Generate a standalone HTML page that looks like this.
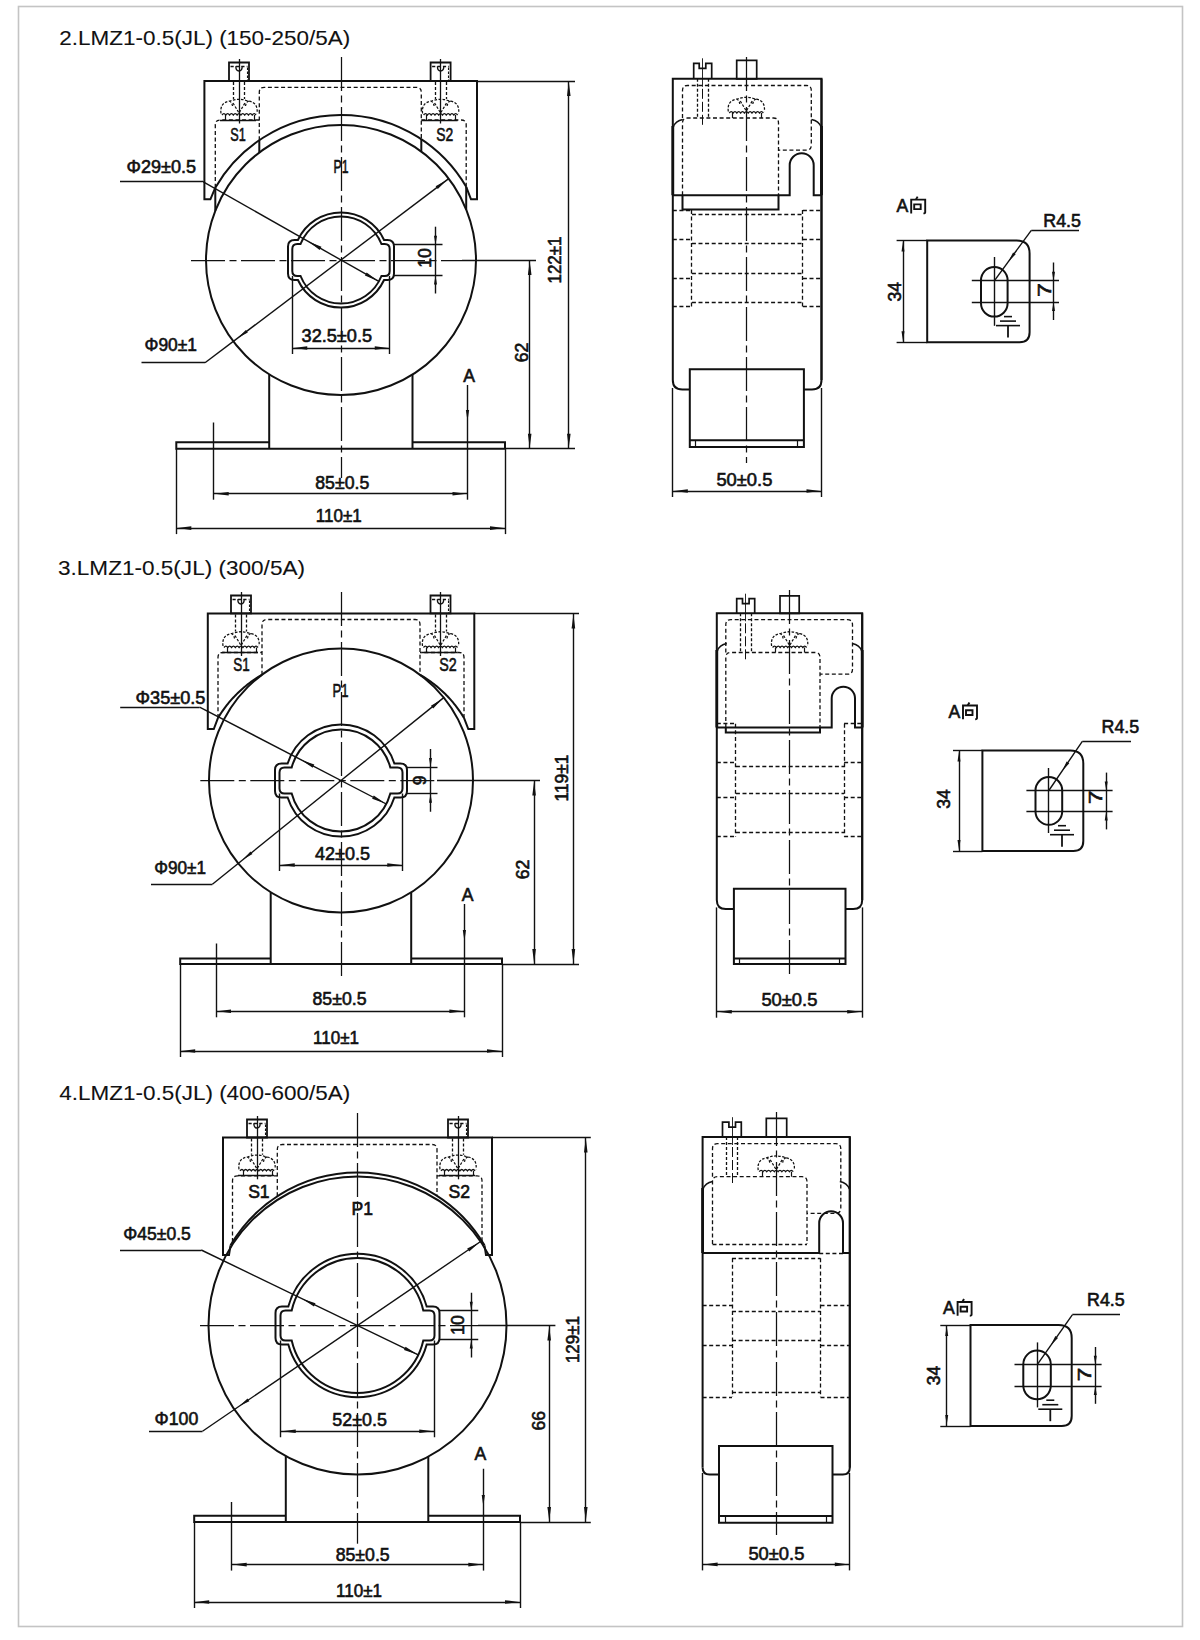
<!DOCTYPE html>
<html><head><meta charset="utf-8"><style>
html,body{margin:0;padding:0;background:#fff;}
body{width:1200px;height:1640px;overflow:hidden;}
svg{display:block;}
text{font-family:"Liberation Sans", sans-serif;fill:#111;stroke:#111;}
</style></head><body>
<svg width="1200" height="1640" viewBox="0 0 1200 1640" stroke="#111" fill="none">
<rect x="18.5" y="6.5" width="1164" height="1620" fill="none" stroke="#c4c4c4" stroke-width="1.6"/>
<text x="59.3" y="44.5" font-size="21" text-anchor="start" textLength="291" lengthAdjust="spacingAndGlyphs" stroke-width="0.1">2.LMZ1-0.5(JL) (150-250/5A)</text>
<text x="58" y="574.5" font-size="21" text-anchor="start" textLength="247" lengthAdjust="spacingAndGlyphs" stroke-width="0.1">3.LMZ1-0.5(JL) (300/5A)</text>
<text x="59.3" y="1099.5" font-size="21" text-anchor="start" textLength="291" lengthAdjust="spacingAndGlyphs" stroke-width="0.1">4.LMZ1-0.5(JL) (400-600/5A)</text>
<circle cx="341" cy="260" r="135" fill="none" stroke-width="2"/>
<path d="M215.3 187.72 A145 145 0 0 1 466.2 186.86" stroke-width="2" fill="none"/>
<line x1="215.3" y1="187.72" x2="215.3" y2="210.76" stroke-width="2" stroke-linecap="butt"/>
<line x1="466.2" y1="186.86" x2="466.2" y2="209.5" stroke-width="2" stroke-linecap="butt"/>
<path d="M215.3 187.72 L210.4 199.3 H204.4 V81 H477 V199.3 H471 L466.2 186.86" stroke-width="2" fill="none"/>
<path d="M259.3 140.21 V92.3 Q259.3 87.3 264.3 87.3 H416.3 Q421.3 87.3 421.3 92.3 V139.27" stroke-width="1.3" stroke-dasharray="4 2.6" fill="none"/>
<line x1="259.3" y1="140.21" x2="259.3" y2="152.53" stroke-width="2" stroke-linecap="butt"/>
<line x1="421.3" y1="139.27" x2="421.3" y2="151.48" stroke-width="2" stroke-linecap="butt"/>
<path d="M215.3 187.72 V125 Q215.3 120 220.3 120 H259.3" stroke-width="1.3" stroke-dasharray="4 2.6" fill="none"/>
<path d="M466.2 186.86 V125 Q466.2 120 461.2 120 H421.3" stroke-width="1.3" stroke-dasharray="4 2.6" fill="none"/>
<path d="M229 62.5H249V81H229Z" stroke-width="1.8" fill="none"/>
<line x1="230.5" y1="66.5" x2="247.5" y2="66.5" stroke-width="1.3" stroke-dasharray="3.2 2.2" stroke-linecap="butt"/>
<path d="M235.8 66.3 Q235.8 71 239 71 Q242.2 71 242.2 66.3" stroke-width="1.3" fill="none"/>
<line x1="247.5" y1="67.5" x2="247.5" y2="81" stroke-width="1.1" stroke-dasharray="2.5 1.5" stroke-linecap="butt"/>
<line x1="239.5" y1="59" x2="239.5" y2="123.5" stroke-width="1.3" stroke-linecap="butt"/>
<line x1="233.5" y1="82" x2="233.5" y2="99" stroke-width="1.3" stroke-dasharray="3 2" stroke-linecap="butt"/>
<line x1="244.5" y1="82" x2="244.5" y2="99" stroke-width="1.3" stroke-dasharray="3 2" stroke-linecap="butt"/>
<line x1="239.5" y1="83" x2="239.5" y2="99" stroke-width="1" stroke-dasharray="6 3" stroke-linecap="butt"/>
<path d="M221 113.5 Q219.5 102.5 230 101 Q239 97.5 248 101 Q258.5 102.5 257 113.5 M233 103 L239 113 L245 103 M229 101 Q232 102 232.5 106 M249 101 Q246 102 245.5 106" stroke-width="1.25" stroke-dasharray="2.6 1.5" fill="none"/>
<path d="M222 115 q1.89 -2.6 3.78 0 q1.89 -2.6 3.78 0 q1.89 -2.6 3.78 0 q1.89 -2.6 3.78 0 q1.89 -2.6 3.78 0 q1.89 -2.6 3.78 0 q1.89 -2.6 3.78 0 q1.89 -2.6 3.78 0 q1.89 -2.6 3.78 0" stroke-width="1.3" fill="none"/>
<line x1="225.5" y1="115" x2="225.5" y2="120" stroke-width="1.2" stroke-linecap="butt"/>
<line x1="254.5" y1="115" x2="254.5" y2="120" stroke-width="1.2" stroke-linecap="butt"/>
<line x1="220" y1="120.5" x2="256" y2="120.5" stroke-width="1.5" stroke-linecap="butt"/>
<path d="M430.6 62.5H450.6V81H430.6Z" stroke-width="1.8" fill="none"/>
<line x1="432.1" y1="66.5" x2="449.1" y2="66.5" stroke-width="1.3" stroke-dasharray="3.2 2.2" stroke-linecap="butt"/>
<path d="M437.4 66.3 Q437.4 71 440.6 71 Q443.8 71 443.8 66.3" stroke-width="1.3" fill="none"/>
<line x1="448.5" y1="67.5" x2="448.5" y2="81" stroke-width="1.1" stroke-dasharray="2.5 1.5" stroke-linecap="butt"/>
<line x1="440.5" y1="59" x2="440.5" y2="123.5" stroke-width="1.3" stroke-linecap="butt"/>
<line x1="435.5" y1="82" x2="435.5" y2="99" stroke-width="1.3" stroke-dasharray="3 2" stroke-linecap="butt"/>
<line x1="446.5" y1="82" x2="446.5" y2="99" stroke-width="1.3" stroke-dasharray="3 2" stroke-linecap="butt"/>
<line x1="440.5" y1="83" x2="440.5" y2="99" stroke-width="1" stroke-dasharray="6 3" stroke-linecap="butt"/>
<path d="M422.6 113.5 Q421.1 102.5 431.6 101 Q440.6 97.5 449.6 101 Q460.1 102.5 458.6 113.5 M434.6 103 L440.6 113 L446.6 103 M430.6 101 Q433.6 102 434.1 106 M450.6 101 Q447.6 102 447.1 106" stroke-width="1.25" stroke-dasharray="2.6 1.5" fill="none"/>
<path d="M423.6 115 q1.89 -2.6 3.78 0 q1.89 -2.6 3.78 0 q1.89 -2.6 3.78 0 q1.89 -2.6 3.78 0 q1.89 -2.6 3.78 0 q1.89 -2.6 3.78 0 q1.89 -2.6 3.78 0 q1.89 -2.6 3.78 0 q1.89 -2.6 3.78 0" stroke-width="1.3" fill="none"/>
<line x1="426.5" y1="115" x2="426.5" y2="120" stroke-width="1.2" stroke-linecap="butt"/>
<line x1="455.5" y1="115" x2="455.5" y2="120" stroke-width="1.2" stroke-linecap="butt"/>
<line x1="421.6" y1="120.5" x2="457.6" y2="120.5" stroke-width="1.5" stroke-linecap="butt"/>
<text x="238" y="141.3" font-size="17.6" text-anchor="middle" textLength="15.5" lengthAdjust="spacingAndGlyphs" stroke-width="0.6">S1</text>
<text x="444.7" y="141.3" font-size="17.6" text-anchor="middle" textLength="17" lengthAdjust="spacingAndGlyphs" stroke-width="0.6">S2</text>
<text x="341" y="173.3" font-size="17.6" text-anchor="middle" textLength="15" lengthAdjust="spacingAndGlyphs" stroke-width="0.6">P1</text>
<path d="M297.92 240A47.5 47.5 0 0 1 384.08 240H387.5 Q394 240 394 246.5V273.5 Q394 280 387.5 280H384.08A47.5 47.5 0 0 1 297.92 280H294.5 Q288 280 288 273.5V246.5 Q288 240 294.5 240Z" stroke-width="2" fill="none"/>
<path d="M300.55 244A43.5 43.5 0 0 1 381.45 244H384.7 Q389.7 244 389.7 249V271 Q389.7 276 384.7 276H381.45A43.5 43.5 0 0 1 300.55 276H297.3 Q292.3 276 292.3 271V249 Q292.3 244 297.3 244Z" stroke-width="2" fill="none"/>
<line x1="191" y1="260.5" x2="462" y2="260.5" stroke-width="1.25" stroke-dasharray="34 4.5 7 4.5" stroke-linecap="butt"/>
<line x1="341.5" y1="57" x2="341.5" y2="478" stroke-width="1.25" stroke-dasharray="34 4.5 7 4.5" stroke-linecap="butt"/>
<line x1="269.2" y1="374.32" x2="269.2" y2="448.7" stroke-width="2" stroke-linecap="butt"/>
<line x1="412.5" y1="374.51" x2="412.5" y2="448.7" stroke-width="2" stroke-linecap="butt"/>
<path d="M269.2 442.2 H176.3 V448.7 H505" stroke-width="2" fill="none"/>
<path d="M412.5 442.2 H505 V448.7" stroke-width="2" fill="none"/>
<line x1="505" y1="448.5" x2="575" y2="448.5" stroke-width="1.4" stroke-linecap="butt"/>
<line x1="477" y1="81.5" x2="575" y2="81.5" stroke-width="1.4" stroke-linecap="butt"/>
<line x1="462" y1="260.5" x2="536" y2="260.5" stroke-width="1.4" stroke-linecap="butt"/>
<line x1="568.5" y1="81" x2="568.5" y2="448.7" stroke-width="1.4" stroke-linecap="butt"/>
<path d="M568.8 82L570.6 96L567 96Z" fill="#111" stroke="none"/>
<path d="M568.8 447.7L567 433.7L570.6 433.7Z" fill="#111" stroke="none"/>
<text transform="translate(560.8 260) rotate(-90)" x="0" y="0" font-size="17.6" text-anchor="middle" textLength="47" lengthAdjust="spacingAndGlyphs" stroke-width="0.6">122±1</text>
<line x1="529.5" y1="260" x2="529.5" y2="448.7" stroke-width="1.4" stroke-linecap="butt"/>
<path d="M529.7 261L531.5 275L527.9 275Z" fill="#111" stroke="none"/>
<path d="M529.7 447.7L527.9 433.7L531.5 433.7Z" fill="#111" stroke="none"/>
<text transform="translate(527.5 352.5) rotate(-90)" x="0" y="0" font-size="17.6" text-anchor="middle" stroke-width="0.6">62</text>
<line x1="213.5" y1="422.5" x2="213.5" y2="499.7" stroke-width="1.4" stroke-linecap="butt"/>
<line x1="467.5" y1="385" x2="467.5" y2="499.7" stroke-width="1.4" stroke-linecap="butt"/>
<line x1="213.7" y1="493.5" x2="467.5" y2="493.5" stroke-width="1.4" stroke-linecap="butt"/>
<path d="M214.7 493.7L228.7 491.9L228.7 495.5Z" fill="#111" stroke="none"/>
<path d="M466.5 493.7L452.5 495.5L452.5 491.9Z" fill="#111" stroke="none"/>
<path d="M467.5 421L465.9 410L469.1 410Z" fill="#111" stroke="none"/>
<text x="342.25" y="489.3" font-size="17.6" text-anchor="middle" textLength="54" lengthAdjust="spacingAndGlyphs" stroke-width="0.6">85±0.5</text>
<text x="469" y="382" font-size="17.6" text-anchor="middle" stroke-width="0.6">A</text>
<line x1="176.5" y1="448.7" x2="176.5" y2="534.1" stroke-width="1.4" stroke-linecap="butt"/>
<line x1="505.5" y1="448.7" x2="505.5" y2="534.1" stroke-width="1.4" stroke-linecap="butt"/>
<line x1="176.3" y1="528.5" x2="505" y2="528.5" stroke-width="1.4" stroke-linecap="butt"/>
<path d="M177.3 528.1L191.3 526.3L191.3 529.9Z" fill="#111" stroke="none"/>
<path d="M504 528.1L490 529.9L490 526.3Z" fill="#111" stroke="none"/>
<text x="338.8" y="521.9" font-size="17.6" text-anchor="middle" textLength="46" lengthAdjust="spacingAndGlyphs" stroke-width="0.6">110±1</text>
<line x1="292.5" y1="276" x2="292.5" y2="354" stroke-width="1.4" stroke-linecap="butt"/>
<line x1="389.5" y1="276" x2="389.5" y2="354" stroke-width="1.4" stroke-linecap="butt"/>
<line x1="292.25" y1="348.5" x2="389.75" y2="348.5" stroke-width="1.4" stroke-linecap="butt"/>
<path d="M293.25 348L307.25 346.2L307.25 349.8Z" fill="#111" stroke="none"/>
<path d="M388.75 348L374.75 349.8L374.75 346.2Z" fill="#111" stroke="none"/>
<text x="336.8" y="342" font-size="17.6" text-anchor="middle" textLength="70.5" lengthAdjust="spacingAndGlyphs" stroke-width="0.6">32.5±0.5</text>
<line x1="394" y1="244.5" x2="442.5" y2="244.5" stroke-width="1.4" stroke-linecap="butt"/>
<line x1="394" y1="275.5" x2="442.5" y2="275.5" stroke-width="1.4" stroke-linecap="butt"/>
<line x1="435.5" y1="226.7" x2="435.5" y2="293.5" stroke-width="1.4" stroke-linecap="butt"/>
<path d="M435.5 244.7L434 235.7L437 235.7Z" fill="#111" stroke="none"/>
<path d="M435.5 275.5L437 284.5L434 284.5Z" fill="#111" stroke="none"/>
<text transform="translate(430.8 258) rotate(-90)" x="0" y="0" font-size="17.6" text-anchor="middle" stroke-width="0.6">10</text>
<line x1="120" y1="181.5" x2="202" y2="181.5" stroke-width="1.4" stroke-linecap="butt"/>
<line x1="202" y1="181.2" x2="378.84" y2="281.45" stroke-width="1.4" stroke-linecap="butt"/>
<path d="M377.97 280.96L364.91 275.62L366.68 272.49Z" fill="#111" stroke="none"/>
<path d="M308.38 241.51L321.44 246.84L319.67 249.98Z" fill="#111" stroke="none"/>
<text x="126.5" y="172.5" font-size="17.6" text-anchor="start" textLength="69.5" lengthAdjust="spacingAndGlyphs" stroke-width="0.6">Φ29±0.5</text>
<line x1="141.5" y1="362.5" x2="205" y2="362.5" stroke-width="1.4" stroke-linecap="butt"/>
<line x1="205" y1="362.8" x2="448.7" y2="178.6" stroke-width="1.4" stroke-linecap="butt"/>
<path d="M447.1 179.8L437.81 189.08L435.64 186.2Z" fill="#111" stroke="none"/>
<path d="M238.09 337.79L245.9 329.88L247.83 332.43Z" fill="#111" stroke="none"/>
<text x="144.5" y="351" font-size="17.6" text-anchor="start" textLength="52.5" lengthAdjust="spacingAndGlyphs" stroke-width="0.6">Φ90±1</text>
<circle cx="341" cy="780.5" r="132" fill="none" stroke-width="2"/>
<path d="M218 717.93 L219.1 716.13 L220.2 714.4 L221.3 712.74 L222.4 711.13 L223.5 709.57 L224.6 708.06 L225.7 706.6 L226.8 705.18 L227.9 703.81 L229 702.47 L230.1 701.17 L231.2 699.91 L232.3 698.68 L233.4 697.49 L234.5 696.32 L235.6 695.19 L236.7 694.08 L237.8 693 L238.9 691.95 L240 690.92 L241.1 689.92 L242.2 688.94 L243.3 687.99 L244.4 687.06 L245.5 686.15 L246.6 685.26 L247.7 684.39 L248.8 683.54 L249.9 682.71 L251 681.9 L252.1 681.11 L253.2 680.33 L254.3 679.58 L255.4 678.84 L256.5 678.12 L257.6 677.41 L258.7 676.72 L259.8 676.05 L260.9 675.39 L262 674.75" stroke-width="2" fill="none"/>
<path d="M420 674.75 L421.1 675.39 L422.2 676.05 L423.3 676.72 L424.4 677.41 L425.5 678.12 L426.6 678.84 L427.7 679.58 L428.8 680.33 L429.9 681.11 L431 681.9 L432.1 682.71 L433.2 683.54 L434.3 684.39 L435.4 685.26 L436.5 686.15 L437.6 687.06 L438.7 687.99 L439.8 688.94 L440.9 689.92 L442 690.92 L443.1 691.95 L444.2 693 L445.3 694.08 L446.4 695.19 L447.5 696.32 L448.6 697.49 L449.7 698.68 L450.8 699.91 L451.9 701.17 L453 702.47 L454.1 703.81 L455.2 705.18 L456.3 706.6 L457.4 708.06 L458.5 709.57 L459.6 711.13 L460.7 712.74 L461.8 714.4 L462.9 716.13 L464 717.93" stroke-width="2" fill="none"/>
<path d="M218 717.93 L213.8 729.1 H207.8 V613.4 H474.3 V729.1 H468.3 L464 717.93" stroke-width="2" fill="none"/>
<path d="M262 674.75 V624.5 Q262 619.5 267 619.5 H415 Q420 619.5 420 624.5 V674.75" stroke-width="1.3" stroke-dasharray="4 2.6" fill="none"/>
<path d="M218 717.93 V657.5 Q218 652.5 223 652.5 H262" stroke-width="1.3" stroke-dasharray="4 2.6" fill="none"/>
<path d="M464 717.93 V657.5 Q464 652.5 459 652.5 H420" stroke-width="1.3" stroke-dasharray="4 2.6" fill="none"/>
<path d="M231 595.5H251V613.4H231Z" stroke-width="1.8" fill="none"/>
<line x1="232.5" y1="599.5" x2="249.5" y2="599.5" stroke-width="1.3" stroke-dasharray="3.2 2.2" stroke-linecap="butt"/>
<path d="M237.8 599.3 Q237.8 604 241 604 Q244.2 604 244.2 599.3" stroke-width="1.3" fill="none"/>
<line x1="249.5" y1="600.5" x2="249.5" y2="613.4" stroke-width="1.1" stroke-dasharray="2.5 1.5" stroke-linecap="butt"/>
<line x1="241.5" y1="592" x2="241.5" y2="656" stroke-width="1.3" stroke-linecap="butt"/>
<line x1="235.5" y1="614.4" x2="235.5" y2="631.5" stroke-width="1.3" stroke-dasharray="3 2" stroke-linecap="butt"/>
<line x1="246.5" y1="614.4" x2="246.5" y2="631.5" stroke-width="1.3" stroke-dasharray="3 2" stroke-linecap="butt"/>
<line x1="241.5" y1="615.4" x2="241.5" y2="631.5" stroke-width="1" stroke-dasharray="6 3" stroke-linecap="butt"/>
<path d="M223 646 Q221.5 635 232 633.5 Q241 630 250 633.5 Q260.5 635 259 646 M235 635.5 L241 645.5 L247 635.5 M231 633.5 Q234 634.5 234.5 638.5 M251 633.5 Q248 634.5 247.5 638.5" stroke-width="1.25" stroke-dasharray="2.6 1.5" fill="none"/>
<path d="M224 647.5 q1.89 -2.6 3.78 0 q1.89 -2.6 3.78 0 q1.89 -2.6 3.78 0 q1.89 -2.6 3.78 0 q1.89 -2.6 3.78 0 q1.89 -2.6 3.78 0 q1.89 -2.6 3.78 0 q1.89 -2.6 3.78 0 q1.89 -2.6 3.78 0" stroke-width="1.3" fill="none"/>
<line x1="227.5" y1="647.5" x2="227.5" y2="652.5" stroke-width="1.2" stroke-linecap="butt"/>
<line x1="256.5" y1="647.5" x2="256.5" y2="652.5" stroke-width="1.2" stroke-linecap="butt"/>
<line x1="222" y1="652.5" x2="258" y2="652.5" stroke-width="1.5" stroke-linecap="butt"/>
<path d="M430.5 595.5H450.5V613.4H430.5Z" stroke-width="1.8" fill="none"/>
<line x1="432" y1="599.5" x2="449" y2="599.5" stroke-width="1.3" stroke-dasharray="3.2 2.2" stroke-linecap="butt"/>
<path d="M437.3 599.3 Q437.3 604 440.5 604 Q443.7 604 443.7 599.3" stroke-width="1.3" fill="none"/>
<line x1="448.5" y1="600.5" x2="448.5" y2="613.4" stroke-width="1.1" stroke-dasharray="2.5 1.5" stroke-linecap="butt"/>
<line x1="440.5" y1="592" x2="440.5" y2="656" stroke-width="1.3" stroke-linecap="butt"/>
<line x1="435.5" y1="614.4" x2="435.5" y2="631.5" stroke-width="1.3" stroke-dasharray="3 2" stroke-linecap="butt"/>
<line x1="446.5" y1="614.4" x2="446.5" y2="631.5" stroke-width="1.3" stroke-dasharray="3 2" stroke-linecap="butt"/>
<line x1="440.5" y1="615.4" x2="440.5" y2="631.5" stroke-width="1" stroke-dasharray="6 3" stroke-linecap="butt"/>
<path d="M422.5 646 Q421 635 431.5 633.5 Q440.5 630 449.5 633.5 Q460 635 458.5 646 M434.5 635.5 L440.5 645.5 L446.5 635.5 M430.5 633.5 Q433.5 634.5 434 638.5 M450.5 633.5 Q447.5 634.5 447 638.5" stroke-width="1.25" stroke-dasharray="2.6 1.5" fill="none"/>
<path d="M423.5 647.5 q1.89 -2.6 3.78 0 q1.89 -2.6 3.78 0 q1.89 -2.6 3.78 0 q1.89 -2.6 3.78 0 q1.89 -2.6 3.78 0 q1.89 -2.6 3.78 0 q1.89 -2.6 3.78 0 q1.89 -2.6 3.78 0 q1.89 -2.6 3.78 0" stroke-width="1.3" fill="none"/>
<line x1="426.5" y1="647.5" x2="426.5" y2="652.5" stroke-width="1.2" stroke-linecap="butt"/>
<line x1="455.5" y1="647.5" x2="455.5" y2="652.5" stroke-width="1.2" stroke-linecap="butt"/>
<line x1="421.5" y1="652.5" x2="457.5" y2="652.5" stroke-width="1.5" stroke-linecap="butt"/>
<text x="241.6" y="671.2" font-size="18.5" text-anchor="middle" textLength="16.5" lengthAdjust="spacingAndGlyphs" stroke-width="0.6">S1</text>
<text x="448" y="671.2" font-size="18.5" text-anchor="middle" textLength="17.5" lengthAdjust="spacingAndGlyphs" stroke-width="0.6">S2</text>
<text x="340.5" y="697" font-size="18.5" text-anchor="middle" textLength="16" lengthAdjust="spacingAndGlyphs" stroke-width="0.6">P1</text>
<path d="M287.64 763.5A56 56 0 0 1 394.36 763.5H400.5 Q407 763.5 407 770V791 Q407 797.5 400.5 797.5H394.36A56 56 0 0 1 287.64 797.5H281.5 Q275 797.5 275 791V770 Q275 763.5 281.5 763.5Z" stroke-width="2" fill="none"/>
<path d="M291.68 767.5A51 51 0 0 1 390.32 767.5H397.5 Q402.5 767.5 402.5 772.5V788.5 Q402.5 793.5 397.5 793.5H390.32A51 51 0 0 1 291.68 793.5H284.5 Q279.5 793.5 279.5 788.5V772.5 Q279.5 767.5 284.5 767.5Z" stroke-width="2" fill="none"/>
<line x1="200.3" y1="780.5" x2="437" y2="780.5" stroke-width="1.25" stroke-dasharray="34 4.5 7 4.5" stroke-linecap="butt"/>
<line x1="341.5" y1="592" x2="341.5" y2="980" stroke-width="1.25" stroke-dasharray="34 4.5 7 4.5" stroke-linecap="butt"/>
<line x1="270.7" y1="892.22" x2="270.7" y2="964" stroke-width="2" stroke-linecap="butt"/>
<line x1="411.2" y1="892.29" x2="411.2" y2="964" stroke-width="2" stroke-linecap="butt"/>
<path d="M270.7 958.5 H180.2 V964 H502" stroke-width="2" fill="none"/>
<path d="M411.2 958.5 H502 V964" stroke-width="2" fill="none"/>
<line x1="502" y1="964.5" x2="579" y2="964.5" stroke-width="1.4" stroke-linecap="butt"/>
<line x1="474.3" y1="613.5" x2="579" y2="613.5" stroke-width="1.4" stroke-linecap="butt"/>
<line x1="437" y1="780.5" x2="540" y2="780.5" stroke-width="1.4" stroke-linecap="butt"/>
<line x1="573.5" y1="613.4" x2="573.5" y2="964" stroke-width="1.4" stroke-linecap="butt"/>
<path d="M573.4 614.4L575.2 628.4L571.6 628.4Z" fill="#111" stroke="none"/>
<path d="M573.4 963L571.6 949L575.2 949Z" fill="#111" stroke="none"/>
<text transform="translate(568 778) rotate(-90)" x="0" y="0" font-size="17.6" text-anchor="middle" textLength="47" lengthAdjust="spacingAndGlyphs" stroke-width="0.6">119±1</text>
<line x1="534.5" y1="780.5" x2="534.5" y2="964" stroke-width="1.4" stroke-linecap="butt"/>
<path d="M534.1 781.5L535.9 795.5L532.3 795.5Z" fill="#111" stroke="none"/>
<path d="M534.1 963L532.3 949L535.9 949Z" fill="#111" stroke="none"/>
<text transform="translate(529.2 869.4) rotate(-90)" x="0" y="0" font-size="17.6" text-anchor="middle" stroke-width="0.6">62</text>
<line x1="216.5" y1="943.5" x2="216.5" y2="1017.3" stroke-width="1.4" stroke-linecap="butt"/>
<line x1="464.5" y1="904" x2="464.5" y2="1017.3" stroke-width="1.4" stroke-linecap="butt"/>
<line x1="216" y1="1011.5" x2="464.4" y2="1011.5" stroke-width="1.4" stroke-linecap="butt"/>
<path d="M217 1011.3L231 1009.5L231 1013.1Z" fill="#111" stroke="none"/>
<path d="M463.4 1011.3L449.4 1013.1L449.4 1009.5Z" fill="#111" stroke="none"/>
<path d="M464.4 941L462.8 930L466 930Z" fill="#111" stroke="none"/>
<text x="339.5" y="1004.7" font-size="17.6" text-anchor="middle" textLength="54" lengthAdjust="spacingAndGlyphs" stroke-width="0.6">85±0.5</text>
<text x="467.6" y="901" font-size="17.6" text-anchor="middle" stroke-width="0.6">A</text>
<line x1="180.5" y1="964" x2="180.5" y2="1057" stroke-width="1.4" stroke-linecap="butt"/>
<line x1="502.5" y1="964" x2="502.5" y2="1057" stroke-width="1.4" stroke-linecap="butt"/>
<line x1="180.2" y1="1051.5" x2="502" y2="1051.5" stroke-width="1.4" stroke-linecap="butt"/>
<path d="M181.2 1051L195.2 1049.2L195.2 1052.8Z" fill="#111" stroke="none"/>
<path d="M501 1051L487 1052.8L487 1049.2Z" fill="#111" stroke="none"/>
<text x="336" y="1044.2" font-size="17.6" text-anchor="middle" textLength="46" lengthAdjust="spacingAndGlyphs" stroke-width="0.6">110±1</text>
<line x1="279.5" y1="793.5" x2="279.5" y2="871" stroke-width="1.4" stroke-linecap="butt"/>
<line x1="402.5" y1="793.5" x2="402.5" y2="871" stroke-width="1.4" stroke-linecap="butt"/>
<line x1="279.75" y1="865.5" x2="402.25" y2="865.5" stroke-width="1.4" stroke-linecap="butt"/>
<path d="M280.75 865L294.75 863.2L294.75 866.8Z" fill="#111" stroke="none"/>
<path d="M401.25 865L387.25 866.8L387.25 863.2Z" fill="#111" stroke="none"/>
<text x="342.5" y="859.8" font-size="17.6" text-anchor="middle" textLength="55" lengthAdjust="spacingAndGlyphs" stroke-width="0.6">42±0.5</text>
<line x1="407" y1="767.5" x2="437.5" y2="767.5" stroke-width="1.4" stroke-linecap="butt"/>
<line x1="407" y1="793.5" x2="437.5" y2="793.5" stroke-width="1.4" stroke-linecap="butt"/>
<line x1="430.5" y1="749" x2="430.5" y2="811.75" stroke-width="1.4" stroke-linecap="butt"/>
<path d="M430.5 767L429 758L432 758Z" fill="#111" stroke="none"/>
<path d="M430.5 793.75L432 802.75L429 802.75Z" fill="#111" stroke="none"/>
<text transform="translate(426.25 780.38) rotate(-90)" x="0" y="0" font-size="17.6" text-anchor="middle" stroke-width="0.6">9</text>
<line x1="120.2" y1="707.5" x2="199.6" y2="707.5" stroke-width="1.4" stroke-linecap="butt"/>
<line x1="199.6" y1="707.1" x2="386.26" y2="804" stroke-width="1.4" stroke-linecap="butt"/>
<path d="M385.38 803.54L372.12 798.68L373.78 795.49Z" fill="#111" stroke="none"/>
<path d="M301.06 759.77L314.32 764.62L312.66 767.82Z" fill="#111" stroke="none"/>
<text x="135.6" y="703.7" font-size="17.6" text-anchor="start" textLength="69.8" lengthAdjust="spacingAndGlyphs" stroke-width="0.6">Φ35±0.5</text>
<line x1="151" y1="884.5" x2="212.4" y2="884.5" stroke-width="1.4" stroke-linecap="butt"/>
<line x1="212.4" y1="884.2" x2="443.75" y2="697.64" stroke-width="1.4" stroke-linecap="butt"/>
<path d="M442.2 698.9L433.21 708.46L430.95 705.66Z" fill="#111" stroke="none"/>
<path d="M242.92 859.59L250.47 851.44L252.48 853.93Z" fill="#111" stroke="none"/>
<text x="154.2" y="874" font-size="17.6" text-anchor="start" textLength="51.8" lengthAdjust="spacingAndGlyphs" stroke-width="0.6">Φ90±1</text>
<circle cx="357.5" cy="1325.5" r="149" fill="none" stroke-width="2"/>
<path d="M230.5 1245.37 A147.1 147.1 0 0 1 484.5 1245.37" stroke-width="2" fill="none"/>
<path d="M230.5 1245.37 L229 1254.9 H223 V1137.5 H492 V1254.9 H486 L484.5 1245.37" stroke-width="2" fill="none"/>
<path d="M277.3 1196.29 V1149.5 Q277.3 1144.5 282.3 1144.5 H432 Q437 1144.5 437 1149.5 V1195.83" stroke-width="1.3" stroke-dasharray="4 2.6" fill="none"/>
<path d="M232.5 1242.05 V1180.8 Q232.5 1175.8 237.5 1175.8 H277.3" stroke-width="1.3" stroke-dasharray="4 2.6" fill="none"/>
<path d="M482 1241.25 V1180.8 Q482 1175.8 477 1175.8 H437" stroke-width="1.3" stroke-dasharray="4 2.6" fill="none"/>
<path d="M247 1119.5H267V1137.5H247Z" stroke-width="1.8" fill="none"/>
<line x1="248.5" y1="1123.5" x2="265.5" y2="1123.5" stroke-width="1.3" stroke-dasharray="3.2 2.2" stroke-linecap="butt"/>
<path d="M253.8 1123.3 Q253.8 1128 257 1128 Q260.2 1128 260.2 1123.3" stroke-width="1.3" fill="none"/>
<line x1="265.5" y1="1124.5" x2="265.5" y2="1137.5" stroke-width="1.1" stroke-dasharray="2.5 1.5" stroke-linecap="butt"/>
<line x1="257.5" y1="1116" x2="257.5" y2="1179.3" stroke-width="1.3" stroke-linecap="butt"/>
<line x1="251.5" y1="1138.5" x2="251.5" y2="1154.8" stroke-width="1.3" stroke-dasharray="3 2" stroke-linecap="butt"/>
<line x1="262.5" y1="1138.5" x2="262.5" y2="1154.8" stroke-width="1.3" stroke-dasharray="3 2" stroke-linecap="butt"/>
<line x1="257.5" y1="1139.5" x2="257.5" y2="1154.8" stroke-width="1" stroke-dasharray="6 3" stroke-linecap="butt"/>
<path d="M239 1169.3 Q237.5 1158.3 248 1156.8 Q257 1153.3 266 1156.8 Q276.5 1158.3 275 1169.3 M251 1158.8 L257 1168.8 L263 1158.8 M247 1156.8 Q250 1157.8 250.5 1161.8 M267 1156.8 Q264 1157.8 263.5 1161.8" stroke-width="1.25" stroke-dasharray="2.6 1.5" fill="none"/>
<path d="M240 1170.8 q1.89 -2.6 3.78 0 q1.89 -2.6 3.78 0 q1.89 -2.6 3.78 0 q1.89 -2.6 3.78 0 q1.89 -2.6 3.78 0 q1.89 -2.6 3.78 0 q1.89 -2.6 3.78 0 q1.89 -2.6 3.78 0 q1.89 -2.6 3.78 0" stroke-width="1.3" fill="none"/>
<line x1="243.5" y1="1170.8" x2="243.5" y2="1175.8" stroke-width="1.2" stroke-linecap="butt"/>
<line x1="272.5" y1="1170.8" x2="272.5" y2="1175.8" stroke-width="1.2" stroke-linecap="butt"/>
<line x1="238" y1="1175.5" x2="274" y2="1175.5" stroke-width="1.5" stroke-linecap="butt"/>
<path d="M448 1119.5H468V1137.5H448Z" stroke-width="1.8" fill="none"/>
<line x1="449.5" y1="1123.5" x2="466.5" y2="1123.5" stroke-width="1.3" stroke-dasharray="3.2 2.2" stroke-linecap="butt"/>
<path d="M454.8 1123.3 Q454.8 1128 458 1128 Q461.2 1128 461.2 1123.3" stroke-width="1.3" fill="none"/>
<line x1="466.5" y1="1124.5" x2="466.5" y2="1137.5" stroke-width="1.1" stroke-dasharray="2.5 1.5" stroke-linecap="butt"/>
<line x1="458.5" y1="1116" x2="458.5" y2="1179.3" stroke-width="1.3" stroke-linecap="butt"/>
<line x1="452.5" y1="1138.5" x2="452.5" y2="1154.8" stroke-width="1.3" stroke-dasharray="3 2" stroke-linecap="butt"/>
<line x1="463.5" y1="1138.5" x2="463.5" y2="1154.8" stroke-width="1.3" stroke-dasharray="3 2" stroke-linecap="butt"/>
<line x1="458.5" y1="1139.5" x2="458.5" y2="1154.8" stroke-width="1" stroke-dasharray="6 3" stroke-linecap="butt"/>
<path d="M440 1169.3 Q438.5 1158.3 449 1156.8 Q458 1153.3 467 1156.8 Q477.5 1158.3 476 1169.3 M452 1158.8 L458 1168.8 L464 1158.8 M448 1156.8 Q451 1157.8 451.5 1161.8 M468 1156.8 Q465 1157.8 464.5 1161.8" stroke-width="1.25" stroke-dasharray="2.6 1.5" fill="none"/>
<path d="M441 1170.8 q1.89 -2.6 3.78 0 q1.89 -2.6 3.78 0 q1.89 -2.6 3.78 0 q1.89 -2.6 3.78 0 q1.89 -2.6 3.78 0 q1.89 -2.6 3.78 0 q1.89 -2.6 3.78 0 q1.89 -2.6 3.78 0 q1.89 -2.6 3.78 0" stroke-width="1.3" fill="none"/>
<line x1="444.5" y1="1170.8" x2="444.5" y2="1175.8" stroke-width="1.2" stroke-linecap="butt"/>
<line x1="473.5" y1="1170.8" x2="473.5" y2="1175.8" stroke-width="1.2" stroke-linecap="butt"/>
<line x1="439" y1="1175.5" x2="475" y2="1175.5" stroke-width="1.5" stroke-linecap="butt"/>
<text x="258.9" y="1197.7" font-size="17.6" text-anchor="middle" stroke-width="0.6">S1</text>
<text x="459.3" y="1197.5" font-size="17.6" text-anchor="middle" stroke-width="0.6">S2</text>
<text x="362.2" y="1214.8" font-size="17.6" text-anchor="middle" stroke-width="0.6">P1</text>
<path d="M288.31 1306.5A71.75 71.75 0 0 1 426.69 1306.5H433 Q439.5 1306.5 439.5 1313V1338 Q439.5 1344.5 433 1344.5H426.69A71.75 71.75 0 0 1 288.31 1344.5H282 Q275.5 1344.5 275.5 1338V1313 Q275.5 1306.5 282 1306.5Z" stroke-width="2" fill="none"/>
<path d="M291.69 1310.5A67.5 67.5 0 0 1 423.31 1310.5H429.5 Q434.5 1310.5 434.5 1315.5V1335.5 Q434.5 1340.5 429.5 1340.5H423.31A67.5 67.5 0 0 1 291.69 1340.5H285.5 Q280.5 1340.5 280.5 1335.5V1315.5 Q280.5 1310.5 285.5 1310.5Z" stroke-width="2" fill="none"/>
<line x1="200" y1="1325.5" x2="478" y2="1325.5" stroke-width="1.25" stroke-dasharray="34 4.5 7 4.5" stroke-linecap="butt"/>
<line x1="357.5" y1="1113" x2="357.5" y2="1543.7" stroke-width="1.25" stroke-dasharray="34 4.5 7 4.5" stroke-linecap="butt"/>
<line x1="285.8" y1="1456.11" x2="285.8" y2="1522" stroke-width="2" stroke-linecap="butt"/>
<line x1="428.3" y1="1456.6" x2="428.3" y2="1522" stroke-width="2" stroke-linecap="butt"/>
<path d="M285.8 1515.8 H194.2 V1522 H520" stroke-width="2" fill="none"/>
<path d="M428.3 1515.8 H520 V1522" stroke-width="2" fill="none"/>
<line x1="520" y1="1522.5" x2="590.8" y2="1522.5" stroke-width="1.4" stroke-linecap="butt"/>
<line x1="492" y1="1137.5" x2="590.8" y2="1137.5" stroke-width="1.4" stroke-linecap="butt"/>
<line x1="478" y1="1325.5" x2="555.4" y2="1325.5" stroke-width="1.4" stroke-linecap="butt"/>
<line x1="585.5" y1="1137.5" x2="585.5" y2="1522" stroke-width="1.4" stroke-linecap="butt"/>
<path d="M585.8 1138.5L587.6 1152.5L584 1152.5Z" fill="#111" stroke="none"/>
<path d="M585.8 1521L584 1507L587.6 1507Z" fill="#111" stroke="none"/>
<text transform="translate(579 1339.6) rotate(-90)" x="0" y="0" font-size="17.6" text-anchor="middle" textLength="47" lengthAdjust="spacingAndGlyphs" stroke-width="0.6">129±1</text>
<line x1="549.5" y1="1325.5" x2="549.5" y2="1522" stroke-width="1.4" stroke-linecap="butt"/>
<path d="M549.2 1326.5L551 1340.5L547.4 1340.5Z" fill="#111" stroke="none"/>
<path d="M549.2 1521L547.4 1507L551 1507Z" fill="#111" stroke="none"/>
<text transform="translate(545 1420.8) rotate(-90)" x="0" y="0" font-size="17.6" text-anchor="middle" stroke-width="0.6">66</text>
<line x1="231.5" y1="1502" x2="231.5" y2="1570.6" stroke-width="1.4" stroke-linecap="butt"/>
<line x1="483.5" y1="1468.75" x2="483.5" y2="1570.6" stroke-width="1.4" stroke-linecap="butt"/>
<line x1="231.7" y1="1564.5" x2="483.3" y2="1564.5" stroke-width="1.4" stroke-linecap="butt"/>
<path d="M232.7 1564.6L246.7 1562.8L246.7 1566.4Z" fill="#111" stroke="none"/>
<path d="M482.3 1564.6L468.3 1566.4L468.3 1562.8Z" fill="#111" stroke="none"/>
<path d="M483.3 1506L481.7 1495L484.9 1495Z" fill="#111" stroke="none"/>
<text x="362.7" y="1560.6" font-size="17.6" text-anchor="middle" textLength="54" lengthAdjust="spacingAndGlyphs" stroke-width="0.6">85±0.5</text>
<text x="480.4" y="1460" font-size="17.6" text-anchor="middle" stroke-width="0.6">A</text>
<line x1="194.5" y1="1522" x2="194.5" y2="1608" stroke-width="1.4" stroke-linecap="butt"/>
<line x1="520.5" y1="1522" x2="520.5" y2="1608" stroke-width="1.4" stroke-linecap="butt"/>
<line x1="194.2" y1="1602.5" x2="520" y2="1602.5" stroke-width="1.4" stroke-linecap="butt"/>
<path d="M195.2 1602L209.2 1600.2L209.2 1603.8Z" fill="#111" stroke="none"/>
<path d="M519 1602L505 1603.8L505 1600.2Z" fill="#111" stroke="none"/>
<text x="359" y="1597.3" font-size="17.6" text-anchor="middle" textLength="46" lengthAdjust="spacingAndGlyphs" stroke-width="0.6">110±1</text>
<line x1="280.5" y1="1340.5" x2="280.5" y2="1437.25" stroke-width="1.4" stroke-linecap="butt"/>
<line x1="434.5" y1="1340.5" x2="434.5" y2="1437.25" stroke-width="1.4" stroke-linecap="butt"/>
<line x1="280.75" y1="1431.5" x2="434.25" y2="1431.5" stroke-width="1.4" stroke-linecap="butt"/>
<path d="M281.75 1431.25L295.75 1429.45L295.75 1433.05Z" fill="#111" stroke="none"/>
<path d="M433.25 1431.25L419.25 1433.05L419.25 1429.45Z" fill="#111" stroke="none"/>
<text x="359.6" y="1426" font-size="17.6" text-anchor="middle" textLength="54.5" lengthAdjust="spacingAndGlyphs" stroke-width="0.6">52±0.5</text>
<line x1="439.5" y1="1310.5" x2="478.25" y2="1310.5" stroke-width="1.4" stroke-linecap="butt"/>
<line x1="439.5" y1="1339.5" x2="478.25" y2="1339.5" stroke-width="1.4" stroke-linecap="butt"/>
<line x1="471.5" y1="1292.75" x2="471.5" y2="1357.5" stroke-width="1.4" stroke-linecap="butt"/>
<path d="M471.25 1310.75L469.75 1301.75L472.75 1301.75Z" fill="#111" stroke="none"/>
<path d="M471.25 1339.5L472.75 1348.5L469.75 1348.5Z" fill="#111" stroke="none"/>
<text transform="translate(463.75 1325.12) rotate(-90)" x="0" y="0" font-size="17.6" text-anchor="middle" stroke-width="0.6">10</text>
<line x1="120" y1="1250.5" x2="201.25" y2="1250.5" stroke-width="1.4" stroke-linecap="butt"/>
<line x1="201.25" y1="1250" x2="418.28" y2="1354.87" stroke-width="1.4" stroke-linecap="butt"/>
<path d="M417.38 1354.43L403.99 1349.96L405.55 1346.72Z" fill="#111" stroke="none"/>
<path d="M302.13 1298.74L315.51 1303.21L313.95 1306.45Z" fill="#111" stroke="none"/>
<text x="123.3" y="1239.6" font-size="17.6" text-anchor="start" textLength="67.5" lengthAdjust="spacingAndGlyphs" stroke-width="0.6">Φ45±0.5</text>
<line x1="149" y1="1431.5" x2="202.5" y2="1431.5" stroke-width="1.4" stroke-linecap="butt"/>
<line x1="202.5" y1="1431.25" x2="480.58" y2="1241.53" stroke-width="1.4" stroke-linecap="butt"/>
<path d="M478.93 1242.65L469.21 1251.47L467.18 1248.49Z" fill="#111" stroke="none"/>
<path d="M239.37 1406.09L247.56 1398.57L249.36 1401.21Z" fill="#111" stroke="none"/>
<text x="154.6" y="1425" font-size="17.6" text-anchor="start" textLength="43.7" lengthAdjust="spacingAndGlyphs" stroke-width="0.6">Φ100</text>
<path d="M689.8 389.5 H682.3 V389.5 Q672.8 389.5 672.8 380 H672.8 M803.9 389.5 H812 Q821.5 389.5 821.5 380 V78.8" stroke-width="2" fill="none"/>
<path d="M672.8 380 V78.8 H821.5 V380" stroke-width="2" fill="none"/>
<line x1="672.8" y1="126" x2="672.8" y2="195.2" stroke-width="2.8" stroke-linecap="butt"/>
<line x1="821.5" y1="126" x2="821.5" y2="195.2" stroke-width="2.8" stroke-linecap="butt"/>
<path d="M673.3 127 Q675.3 121 682.8 119.5" stroke-width="1.4" fill="none"/>
<path d="M821 127 Q819 121 811.5 119.5" stroke-width="1.4" fill="none"/>
<path d="M693.7 78.8 V63.3 H699.2 V68.3 H705.8 V63.3 H711.7 V78.8" stroke-width="1.7" fill="none"/>
<line x1="702.5" y1="58.3" x2="702.5" y2="86.8" stroke-width="0.9" stroke-linecap="butt"/>
<line x1="702.5" y1="88.8" x2="702.5" y2="126" stroke-width="1" stroke-dasharray="10 3" stroke-linecap="butt"/>
<line x1="697.5" y1="78.8" x2="697.5" y2="118" stroke-width="1.3" stroke-dasharray="3 2" stroke-linecap="butt"/>
<line x1="708.5" y1="78.8" x2="708.5" y2="118" stroke-width="1.3" stroke-dasharray="3 2" stroke-linecap="butt"/>
<path d="M736.7 60.3H756.7V78.8H736.7Z" stroke-width="1.7" fill="none"/>
<path d="M682.5 118 V90.5 Q682.5 85.5 687.5 85.5 H806.3 Q811.3 85.5 811.3 90.5 V145.2 Q811.3 150.2 806.3 150.2 H778.5" stroke-width="1.3" stroke-dasharray="4 2.6" fill="none"/>
<path d="M682.5 195.2 V123 Q682.5 118 687.5 118 H773.5 Q778.5 118 778.5 123 V195.2" stroke-width="1.3" stroke-dasharray="4 2.6" fill="none"/>
<path d="M728.3 111.5 Q726.8 100.5 737.3 99 Q746.3 95.5 755.3 99 Q765.8 100.5 764.3 111.5 M740.3 101 L746.3 111 L752.3 101 M736.3 99 Q739.3 100 739.8 104 M756.3 99 Q753.3 100 752.8 104" stroke-width="1.25" stroke-dasharray="2.6 1.5" fill="none"/>
<path d="M729.3 113 q1.89 -2.6 3.78 0 q1.89 -2.6 3.78 0 q1.89 -2.6 3.78 0 q1.89 -2.6 3.78 0 q1.89 -2.6 3.78 0 q1.89 -2.6 3.78 0 q1.89 -2.6 3.78 0 q1.89 -2.6 3.78 0 q1.89 -2.6 3.78 0" stroke-width="1.3" fill="none"/>
<line x1="732.5" y1="113" x2="732.5" y2="118" stroke-width="1.2" stroke-linecap="butt"/>
<line x1="761.5" y1="113" x2="761.5" y2="118" stroke-width="1.2" stroke-linecap="butt"/>
<path d="M672.8 195.2 H789.7 V165.2 A12 12 0 0 1 813.7 165.2 V195.2 H821.5" stroke-width="2" fill="none"/>
<path d="M682.5 195.2 V209.5 H778.5 V195.2" stroke-width="2" fill="none"/>
<line x1="672.8" y1="210.5" x2="691.9" y2="210.5" stroke-width="1.3" stroke-dasharray="4 2.6" stroke-linecap="butt"/>
<line x1="802.9" y1="210.5" x2="821.5" y2="210.5" stroke-width="1.3" stroke-dasharray="4 2.6" stroke-linecap="butt"/>
<line x1="672.8" y1="239.5" x2="691.9" y2="239.5" stroke-width="1.3" stroke-dasharray="4 2.6" stroke-linecap="butt"/>
<line x1="802.9" y1="239.5" x2="821.5" y2="239.5" stroke-width="1.3" stroke-dasharray="4 2.6" stroke-linecap="butt"/>
<line x1="672.8" y1="278.5" x2="691.9" y2="278.5" stroke-width="1.3" stroke-dasharray="4 2.6" stroke-linecap="butt"/>
<line x1="802.9" y1="278.5" x2="821.5" y2="278.5" stroke-width="1.3" stroke-dasharray="4 2.6" stroke-linecap="butt"/>
<line x1="672.8" y1="306.5" x2="691.9" y2="306.5" stroke-width="1.3" stroke-dasharray="4 2.6" stroke-linecap="butt"/>
<line x1="802.9" y1="306.5" x2="821.5" y2="306.5" stroke-width="1.3" stroke-dasharray="4 2.6" stroke-linecap="butt"/>
<line x1="691.9" y1="214.5" x2="802.9" y2="214.5" stroke-width="1.3" stroke-dasharray="4 2.6" stroke-linecap="butt"/>
<line x1="691.9" y1="243.5" x2="802.9" y2="243.5" stroke-width="1.3" stroke-dasharray="4 2.6" stroke-linecap="butt"/>
<line x1="691.9" y1="273.5" x2="802.9" y2="273.5" stroke-width="1.3" stroke-dasharray="4 2.6" stroke-linecap="butt"/>
<line x1="691.9" y1="302.5" x2="802.9" y2="302.5" stroke-width="1.3" stroke-dasharray="4 2.6" stroke-linecap="butt"/>
<line x1="691.5" y1="210" x2="691.5" y2="306.5" stroke-width="1.3" stroke-dasharray="4 2.6" stroke-linecap="butt"/>
<line x1="802.5" y1="210" x2="802.5" y2="306.5" stroke-width="1.3" stroke-dasharray="4 2.6" stroke-linecap="butt"/>
<path d="M689.8 369.3H803.9V447H689.8Z" stroke-width="2" fill="none"/>
<line x1="689.8" y1="440.3" x2="803.9" y2="440.3" stroke-width="2" stroke-linecap="butt"/>
<line x1="695.5" y1="440.3" x2="695.5" y2="447" stroke-width="1.2" stroke-linecap="butt"/>
<line x1="797.5" y1="440.3" x2="797.5" y2="447" stroke-width="1.2" stroke-linecap="butt"/>
<line x1="746.5" y1="57" x2="746.5" y2="463" stroke-width="1.25" stroke-dasharray="34 4.5 7 4.5" stroke-linecap="butt"/>
<line x1="672.5" y1="388" x2="672.5" y2="497" stroke-width="1.4" stroke-linecap="butt"/>
<line x1="821.5" y1="388" x2="821.5" y2="497" stroke-width="1.4" stroke-linecap="butt"/>
<line x1="672.8" y1="491.5" x2="821.5" y2="491.5" stroke-width="1.4" stroke-linecap="butt"/>
<path d="M673.8 491L687.8 489.2L687.8 492.8Z" fill="#111" stroke="none"/>
<path d="M820.5 491L806.5 492.8L806.5 489.2Z" fill="#111" stroke="none"/>
<text x="744.4" y="485.8" font-size="18" text-anchor="middle" textLength="56" lengthAdjust="spacingAndGlyphs" stroke-width="0.6">50±0.5</text>
<path d="M733.9 908.9 H725.8 V908.9 Q716.8 908.9 716.8 899.9 H716.8 M845.5 908.9 H853.2 Q862.2 908.9 862.2 899.9 V613.3" stroke-width="2" fill="none"/>
<path d="M716.8 899.9 V613.3 H862.2 V899.9" stroke-width="2" fill="none"/>
<line x1="716.8" y1="650" x2="716.8" y2="727.5" stroke-width="2.8" stroke-linecap="butt"/>
<line x1="862.2" y1="650" x2="862.2" y2="727.5" stroke-width="2.8" stroke-linecap="butt"/>
<path d="M717.3 651 Q719.3 645 726.8 643.5" stroke-width="1.4" fill="none"/>
<path d="M861.7 651 Q859.7 645 852.2 643.5" stroke-width="1.4" fill="none"/>
<path d="M736.7 613.3 V598.7 H742.5 V603.7 H749.1 V598.7 H754.7 V613.3" stroke-width="1.7" fill="none"/>
<line x1="745.5" y1="593.7" x2="745.5" y2="621.3" stroke-width="0.9" stroke-linecap="butt"/>
<line x1="745.5" y1="623.3" x2="745.5" y2="660.5" stroke-width="1" stroke-dasharray="10 3" stroke-linecap="butt"/>
<line x1="740.5" y1="613.3" x2="740.5" y2="652.5" stroke-width="1.3" stroke-dasharray="3 2" stroke-linecap="butt"/>
<line x1="751.5" y1="613.3" x2="751.5" y2="652.5" stroke-width="1.3" stroke-dasharray="3 2" stroke-linecap="butt"/>
<path d="M780 595.8H799.2V613.3H780Z" stroke-width="1.7" fill="none"/>
<path d="M725.8 652.5 V624.7 Q725.8 619.7 730.8 619.7 H847.5 Q852.5 619.7 852.5 624.7 V669.2 Q852.5 674.2 847.5 674.2 H820" stroke-width="1.3" stroke-dasharray="4 2.6" fill="none"/>
<path d="M725.8 727.5 V657.5 Q725.8 652.5 730.8 652.5 H815 Q820 652.5 820 657.5 V727.5" stroke-width="1.3" stroke-dasharray="4 2.6" fill="none"/>
<path d="M771.6 646 Q770.1 635 780.6 633.5 Q789.6 630 798.6 633.5 Q809.1 635 807.6 646 M783.6 635.5 L789.6 645.5 L795.6 635.5 M779.6 633.5 Q782.6 634.5 783.1 638.5 M799.6 633.5 Q796.6 634.5 796.1 638.5" stroke-width="1.25" stroke-dasharray="2.6 1.5" fill="none"/>
<path d="M772.6 647.5 q1.89 -2.6 3.78 0 q1.89 -2.6 3.78 0 q1.89 -2.6 3.78 0 q1.89 -2.6 3.78 0 q1.89 -2.6 3.78 0 q1.89 -2.6 3.78 0 q1.89 -2.6 3.78 0 q1.89 -2.6 3.78 0 q1.89 -2.6 3.78 0" stroke-width="1.3" fill="none"/>
<line x1="775.5" y1="647.5" x2="775.5" y2="652.5" stroke-width="1.2" stroke-linecap="butt"/>
<line x1="804.5" y1="647.5" x2="804.5" y2="652.5" stroke-width="1.2" stroke-linecap="butt"/>
<path d="M716.8 727.5 H831.7 V698.35 A11.65 11.65 0 0 1 855 698.35 V727.5 H862.2" stroke-width="2" fill="none"/>
<path d="M725.8 727.5 V732.5 H820 V727.5" stroke-width="2" fill="none"/>
<line x1="716.8" y1="723.5" x2="735.9" y2="723.5" stroke-width="1.3" stroke-dasharray="4 2.6" stroke-linecap="butt"/>
<line x1="844.1" y1="723.5" x2="862.2" y2="723.5" stroke-width="1.3" stroke-dasharray="4 2.6" stroke-linecap="butt"/>
<line x1="716.8" y1="762.5" x2="735.9" y2="762.5" stroke-width="1.3" stroke-dasharray="4 2.6" stroke-linecap="butt"/>
<line x1="844.1" y1="762.5" x2="862.2" y2="762.5" stroke-width="1.3" stroke-dasharray="4 2.6" stroke-linecap="butt"/>
<line x1="716.8" y1="797.5" x2="735.9" y2="797.5" stroke-width="1.3" stroke-dasharray="4 2.6" stroke-linecap="butt"/>
<line x1="844.1" y1="797.5" x2="862.2" y2="797.5" stroke-width="1.3" stroke-dasharray="4 2.6" stroke-linecap="butt"/>
<line x1="716.8" y1="836.5" x2="735.9" y2="836.5" stroke-width="1.3" stroke-dasharray="4 2.6" stroke-linecap="butt"/>
<line x1="844.1" y1="836.5" x2="862.2" y2="836.5" stroke-width="1.3" stroke-dasharray="4 2.6" stroke-linecap="butt"/>
<line x1="735.9" y1="766.5" x2="844.1" y2="766.5" stroke-width="1.3" stroke-dasharray="4 2.6" stroke-linecap="butt"/>
<line x1="735.9" y1="793.5" x2="844.1" y2="793.5" stroke-width="1.3" stroke-dasharray="4 2.6" stroke-linecap="butt"/>
<line x1="735.9" y1="832.5" x2="844.1" y2="832.5" stroke-width="1.3" stroke-dasharray="4 2.6" stroke-linecap="butt"/>
<line x1="735.5" y1="723.7" x2="735.5" y2="836.5" stroke-width="1.3" stroke-dasharray="4 2.6" stroke-linecap="butt"/>
<line x1="844.5" y1="723.7" x2="844.5" y2="836.5" stroke-width="1.3" stroke-dasharray="4 2.6" stroke-linecap="butt"/>
<path d="M733.9 888.8H845.5V963.9H733.9Z" stroke-width="2" fill="none"/>
<line x1="733.9" y1="958.4" x2="845.5" y2="958.4" stroke-width="2" stroke-linecap="butt"/>
<line x1="739.5" y1="958.4" x2="739.5" y2="963.9" stroke-width="1.2" stroke-linecap="butt"/>
<line x1="839.5" y1="958.4" x2="839.5" y2="963.9" stroke-width="1.2" stroke-linecap="butt"/>
<line x1="789.5" y1="590" x2="789.5" y2="975.6" stroke-width="1.25" stroke-dasharray="34 4.5 7 4.5" stroke-linecap="butt"/>
<line x1="716.5" y1="907.4" x2="716.5" y2="1017.7" stroke-width="1.4" stroke-linecap="butt"/>
<line x1="862.5" y1="907.4" x2="862.5" y2="1017.7" stroke-width="1.4" stroke-linecap="butt"/>
<line x1="716.8" y1="1011.5" x2="862.2" y2="1011.5" stroke-width="1.4" stroke-linecap="butt"/>
<path d="M717.8 1011.7L731.8 1009.9L731.8 1013.5Z" fill="#111" stroke="none"/>
<path d="M861.2 1011.7L847.2 1013.5L847.2 1009.9Z" fill="#111" stroke="none"/>
<text x="789.4" y="1005.8" font-size="18" text-anchor="middle" textLength="56" lengthAdjust="spacingAndGlyphs" stroke-width="0.6">50±0.5</text>
<path d="M719 1474.4 H709.6 V1474.4 Q702.6 1474.4 702.6 1467.4 H702.6 M832.5 1474.4 H842.8 Q849.8 1474.4 849.8 1467.4 V1137" stroke-width="2" fill="none"/>
<path d="M702.6 1467.4 V1137 H849.8 V1467.4" stroke-width="2" fill="none"/>
<line x1="702.6" y1="1188" x2="702.6" y2="1253" stroke-width="2.8" stroke-linecap="butt"/>
<path d="M703.1 1189 Q705.1 1183 712.6 1181.5" stroke-width="1.4" fill="none"/>
<path d="M849.3 1189 Q847.3 1183 839.8 1181.5" stroke-width="1.4" fill="none"/>
<path d="M722.5 1137 V1122.2 H728.9 V1127.2 H735.5 V1122.2 H741.3 V1137" stroke-width="1.7" fill="none"/>
<line x1="732.5" y1="1117.2" x2="732.5" y2="1145" stroke-width="0.9" stroke-linecap="butt"/>
<line x1="732.5" y1="1147" x2="732.5" y2="1184.7" stroke-width="1" stroke-dasharray="10 3" stroke-linecap="butt"/>
<line x1="726.5" y1="1137" x2="726.5" y2="1176.7" stroke-width="1.3" stroke-dasharray="3 2" stroke-linecap="butt"/>
<line x1="737.5" y1="1137" x2="737.5" y2="1176.7" stroke-width="1.3" stroke-dasharray="3 2" stroke-linecap="butt"/>
<path d="M766.3 1118.3H786.7V1137H766.3Z" stroke-width="1.7" fill="none"/>
<path d="M712.5 1176.7 V1148.7 Q712.5 1143.7 717.5 1143.7 H835.8 Q840.8 1143.7 840.8 1148.7 V1208.3 Q840.8 1213.3 835.8 1213.3 H807" stroke-width="1.3" stroke-dasharray="4 2.6" fill="none"/>
<path d="M712.5 1244 V1181.7 Q712.5 1176.7 717.5 1176.7 H802 Q807 1176.7 807 1181.7 V1244" stroke-width="1.3" stroke-dasharray="4 2.6" fill="none"/>
<line x1="712.5" y1="1244.5" x2="807" y2="1244.5" stroke-width="1.3" stroke-dasharray="4 2.6" stroke-linecap="butt"/>
<path d="M758.2 1170.2 Q756.7 1159.2 767.2 1157.7 Q776.2 1154.2 785.2 1157.7 Q795.7 1159.2 794.2 1170.2 M770.2 1159.7 L776.2 1169.7 L782.2 1159.7 M766.2 1157.7 Q769.2 1158.7 769.7 1162.7 M786.2 1157.7 Q783.2 1158.7 782.7 1162.7" stroke-width="1.25" stroke-dasharray="2.6 1.5" fill="none"/>
<path d="M759.2 1171.7 q1.89 -2.6 3.78 0 q1.89 -2.6 3.78 0 q1.89 -2.6 3.78 0 q1.89 -2.6 3.78 0 q1.89 -2.6 3.78 0 q1.89 -2.6 3.78 0 q1.89 -2.6 3.78 0 q1.89 -2.6 3.78 0 q1.89 -2.6 3.78 0" stroke-width="1.3" fill="none"/>
<line x1="762.5" y1="1171.7" x2="762.5" y2="1176.7" stroke-width="1.2" stroke-linecap="butt"/>
<line x1="791.5" y1="1171.7" x2="791.5" y2="1176.7" stroke-width="1.2" stroke-linecap="butt"/>
<path d="M702.6 1253 H819.2 V1223.2 A11.9 11.9 0 0 1 843 1223.2 V1253 H849.8" stroke-width="2" fill="none"/>
<line x1="819.2" y1="1253.5" x2="843" y2="1253.5" stroke-width="1.3" stroke-dasharray="4 2.6" stroke-linecap="butt"/>
<line x1="702.6" y1="1305.5" x2="732" y2="1305.5" stroke-width="1.3" stroke-dasharray="4 2.6" stroke-linecap="butt"/>
<line x1="820.5" y1="1305.5" x2="849.8" y2="1305.5" stroke-width="1.3" stroke-dasharray="4 2.6" stroke-linecap="butt"/>
<line x1="702.6" y1="1345.5" x2="732" y2="1345.5" stroke-width="1.3" stroke-dasharray="4 2.6" stroke-linecap="butt"/>
<line x1="820.5" y1="1345.5" x2="849.8" y2="1345.5" stroke-width="1.3" stroke-dasharray="4 2.6" stroke-linecap="butt"/>
<line x1="702.6" y1="1397.5" x2="732" y2="1397.5" stroke-width="1.3" stroke-dasharray="4 2.6" stroke-linecap="butt"/>
<line x1="820.5" y1="1397.5" x2="849.8" y2="1397.5" stroke-width="1.3" stroke-dasharray="4 2.6" stroke-linecap="butt"/>
<line x1="732" y1="1258.5" x2="820.5" y2="1258.5" stroke-width="1.3" stroke-dasharray="4 2.6" stroke-linecap="butt"/>
<line x1="732" y1="1311.5" x2="820.5" y2="1311.5" stroke-width="1.3" stroke-dasharray="4 2.6" stroke-linecap="butt"/>
<line x1="732" y1="1340.5" x2="820.5" y2="1340.5" stroke-width="1.3" stroke-dasharray="4 2.6" stroke-linecap="butt"/>
<line x1="732" y1="1392.5" x2="820.5" y2="1392.5" stroke-width="1.3" stroke-dasharray="4 2.6" stroke-linecap="butt"/>
<line x1="732.5" y1="1258.2" x2="732.5" y2="1397" stroke-width="1.3" stroke-dasharray="4 2.6" stroke-linecap="butt"/>
<line x1="820.5" y1="1258.2" x2="820.5" y2="1397" stroke-width="1.3" stroke-dasharray="4 2.6" stroke-linecap="butt"/>
<path d="M719 1445.9H832.5V1522.7H719Z" stroke-width="2" fill="none"/>
<line x1="719" y1="1516" x2="832.5" y2="1516" stroke-width="2" stroke-linecap="butt"/>
<line x1="725.5" y1="1516" x2="725.5" y2="1522.7" stroke-width="1.2" stroke-linecap="butt"/>
<line x1="826.5" y1="1516" x2="826.5" y2="1522.7" stroke-width="1.2" stroke-linecap="butt"/>
<line x1="776.5" y1="1112" x2="776.5" y2="1535" stroke-width="1.25" stroke-dasharray="34 4.5 7 4.5" stroke-linecap="butt"/>
<line x1="702.5" y1="1472.9" x2="702.5" y2="1570.4" stroke-width="1.4" stroke-linecap="butt"/>
<line x1="849.5" y1="1472.9" x2="849.5" y2="1570.4" stroke-width="1.4" stroke-linecap="butt"/>
<line x1="702.6" y1="1564.5" x2="849.8" y2="1564.5" stroke-width="1.4" stroke-linecap="butt"/>
<path d="M703.6 1564.4L717.6 1562.6L717.6 1566.2Z" fill="#111" stroke="none"/>
<path d="M848.8 1564.4L834.8 1566.2L834.8 1562.6Z" fill="#111" stroke="none"/>
<text x="776.4" y="1559.6" font-size="18" text-anchor="middle" textLength="56" lengthAdjust="spacingAndGlyphs" stroke-width="0.6">50±0.5</text>
<path d="M927.2 240.4 H1016.6 Q1029.6 240.4 1029.6 253.4 V332.2 Q1029.6 342.2 1019.6 342.2 H927.2 Z" stroke-width="2" fill="none"/>
<line x1="896.6" y1="240.5" x2="927.2" y2="240.5" stroke-width="1.4" stroke-linecap="butt"/>
<line x1="896.6" y1="342.5" x2="927.2" y2="342.5" stroke-width="1.4" stroke-linecap="butt"/>
<line x1="903.5" y1="240.4" x2="903.5" y2="342.2" stroke-width="1.4" stroke-linecap="butt"/>
<path d="M903 241.4L904.5 251.4L901.5 251.4Z" fill="#111" stroke="none"/>
<path d="M903 341.2L901.5 331.2L904.5 331.2Z" fill="#111" stroke="none"/>
<text transform="translate(901.2 291.8) rotate(-90)" x="0" y="0" font-size="17.6" text-anchor="middle" stroke-width="0.6">34</text>
<path d="M981 280.3 A13.3 13.3 0 0 1 1007.6 280.3 V303.3 A13.3 13.3 0 0 1 981 303.3 Z" stroke-width="2" fill="none"/>
<line x1="994.5" y1="257" x2="994.5" y2="325.8" stroke-width="1.4" stroke-linecap="butt"/>
<line x1="971.8" y1="280.5" x2="1059" y2="280.5" stroke-width="1.4" stroke-linecap="butt"/>
<line x1="971.8" y1="302.5" x2="1059" y2="302.5" stroke-width="1.4" stroke-linecap="butt"/>
<line x1="1053.5" y1="262.5" x2="1053.5" y2="320" stroke-width="1.4" stroke-linecap="butt"/>
<path d="M1053.5 280.8L1052 271.8L1055 271.8Z" fill="#111" stroke="none"/>
<path d="M1053.5 302L1055 311L1052 311Z" fill="#111" stroke="none"/>
<text transform="translate(1050.7 290) rotate(-90)" x="0" y="0" font-size="17.6" text-anchor="middle" textLength="13.5" lengthAdjust="spacingAndGlyphs" stroke-width="0.6">7</text>
<line x1="1031.3" y1="230.5" x2="1079" y2="230.5" stroke-width="1.4" stroke-linecap="butt"/>
<line x1="1031.3" y1="230.3" x2="994.3" y2="280.8" stroke-width="1.4" stroke-linecap="butt"/>
<path d="M1008.48 261.44L1013.1 252.43L1015.69 254.32Z" fill="#111" stroke="none"/>
<text x="1043.3" y="226.7" font-size="17.6" text-anchor="start" textLength="37.7" lengthAdjust="spacingAndGlyphs" stroke-width="0.6">R4.5</text>
<line x1="1004" y1="316.6" x2="1012" y2="316.6" stroke-width="1.6" stroke-linecap="butt"/>
<line x1="1000" y1="321.1" x2="1016" y2="321.1" stroke-width="1.6" stroke-linecap="butt"/>
<line x1="996" y1="325.6" x2="1020" y2="325.6" stroke-width="1.6" stroke-linecap="butt"/>
<line x1="1008" y1="325.6" x2="1008" y2="337.6" stroke-width="1.8" stroke-linecap="butt"/>
<text x="896.6" y="211.6" font-size="17.6" text-anchor="start" stroke-width="0.6">A</text>
<path d="M917.6 196.6 L915.9 199.6" stroke-width="1.9" fill="none"/>
<path d="M911.2 213.4 V199.6 H925.2 V212.2 Q925.2 213.4 923.4 213.4" stroke-width="1.9" fill="none"/>
<path d="M914.2 204.4H920.7V209.1H914.2Z" stroke-width="1.9" fill="none"/>
<path d="M982.4 750.5 H1070.3 Q1083.3 750.5 1083.3 763.5 V841 Q1083.3 851 1073.3 851 H982.4 Z" stroke-width="2" fill="none"/>
<line x1="953" y1="750.5" x2="982.4" y2="750.5" stroke-width="1.4" stroke-linecap="butt"/>
<line x1="953" y1="851.5" x2="982.4" y2="851.5" stroke-width="1.4" stroke-linecap="butt"/>
<line x1="959.5" y1="750.5" x2="959.5" y2="851" stroke-width="1.4" stroke-linecap="butt"/>
<path d="M959 751.5L960.5 761.5L957.5 761.5Z" fill="#111" stroke="none"/>
<path d="M959 850L957.5 840L960.5 840Z" fill="#111" stroke="none"/>
<text transform="translate(949.5 799) rotate(-90)" x="0" y="0" font-size="17.6" text-anchor="middle" stroke-width="0.6">34</text>
<path d="M1035.5 790.45 A13.35 13.35 0 0 1 1062.2 790.45 V811.45 A13.35 13.35 0 0 1 1035.5 811.45 Z" stroke-width="2" fill="none"/>
<line x1="1048.5" y1="768" x2="1048.5" y2="833" stroke-width="1.4" stroke-linecap="butt"/>
<line x1="1026.4" y1="790.5" x2="1112.6" y2="790.5" stroke-width="1.4" stroke-linecap="butt"/>
<line x1="1026.4" y1="811.5" x2="1112.6" y2="811.5" stroke-width="1.4" stroke-linecap="butt"/>
<line x1="1106.5" y1="772.6" x2="1106.5" y2="829.4" stroke-width="1.4" stroke-linecap="butt"/>
<path d="M1106.2 790.5L1104.7 781.5L1107.7 781.5Z" fill="#111" stroke="none"/>
<path d="M1106.2 811.5L1107.7 820.5L1104.7 820.5Z" fill="#111" stroke="none"/>
<text transform="translate(1102 797.3) rotate(-90)" x="0" y="0" font-size="17.6" text-anchor="middle" textLength="13.5" lengthAdjust="spacingAndGlyphs" stroke-width="0.6">7</text>
<line x1="1082.3" y1="741.5" x2="1131" y2="741.5" stroke-width="1.4" stroke-linecap="butt"/>
<line x1="1082.3" y1="741.3" x2="1048.85" y2="790.5" stroke-width="1.4" stroke-linecap="butt"/>
<path d="M1062.34 770.65L1066.64 761.48L1069.29 763.28Z" fill="#111" stroke="none"/>
<text x="1101.5" y="732.5" font-size="17.6" text-anchor="start" textLength="37.7" lengthAdjust="spacingAndGlyphs" stroke-width="0.6">R4.5</text>
<line x1="1058" y1="825.7" x2="1066" y2="825.7" stroke-width="1.6" stroke-linecap="butt"/>
<line x1="1054" y1="830.2" x2="1070" y2="830.2" stroke-width="1.6" stroke-linecap="butt"/>
<line x1="1050" y1="834.7" x2="1074" y2="834.7" stroke-width="1.6" stroke-linecap="butt"/>
<line x1="1062" y1="834.7" x2="1062" y2="846.7" stroke-width="1.8" stroke-linecap="butt"/>
<text x="948.4" y="717.5" font-size="17.6" text-anchor="start" stroke-width="0.6">A</text>
<path d="M969.4 702.5 L967.7 705.5" stroke-width="1.9" fill="none"/>
<path d="M963 719.3 V705.5 H977 V718.1 Q977 719.3 975.2 719.3" stroke-width="1.9" fill="none"/>
<path d="M966 710.3H972.5V715H966Z" stroke-width="1.9" fill="none"/>
<path d="M970.5 1325 H1058.7 Q1071.7 1325 1071.7 1338 V1416.1 Q1071.7 1426.1 1061.7 1426.1 H970.5 Z" stroke-width="2" fill="none"/>
<line x1="940.3" y1="1325.5" x2="970.5" y2="1325.5" stroke-width="1.4" stroke-linecap="butt"/>
<line x1="940.3" y1="1426.5" x2="970.5" y2="1426.5" stroke-width="1.4" stroke-linecap="butt"/>
<line x1="946.5" y1="1325" x2="946.5" y2="1426.1" stroke-width="1.4" stroke-linecap="butt"/>
<path d="M946.7 1326L948.2 1336L945.2 1336Z" fill="#111" stroke="none"/>
<path d="M946.7 1425.1L945.2 1415.1L948.2 1415.1Z" fill="#111" stroke="none"/>
<text transform="translate(939.5 1375.4) rotate(-90)" x="0" y="0" font-size="17.6" text-anchor="middle" stroke-width="0.6">34</text>
<path d="M1023.3 1364.35 A13.75 13.75 0 0 1 1050.8 1364.35 V1385.45 A13.75 13.75 0 0 1 1023.3 1385.45 Z" stroke-width="2" fill="none"/>
<line x1="1037.5" y1="1342.4" x2="1037.5" y2="1407.4" stroke-width="1.4" stroke-linecap="butt"/>
<line x1="1014.5" y1="1364.5" x2="1101.6" y2="1364.5" stroke-width="1.4" stroke-linecap="butt"/>
<line x1="1014.5" y1="1386.5" x2="1101.6" y2="1386.5" stroke-width="1.4" stroke-linecap="butt"/>
<line x1="1095.5" y1="1347" x2="1095.5" y2="1403.8" stroke-width="1.4" stroke-linecap="butt"/>
<path d="M1095.3 1364.8L1093.8 1355.8L1096.8 1355.8Z" fill="#111" stroke="none"/>
<path d="M1095.3 1386L1096.8 1395L1093.8 1395Z" fill="#111" stroke="none"/>
<text transform="translate(1091 1374.4) rotate(-90)" x="0" y="0" font-size="17.6" text-anchor="middle" textLength="13.5" lengthAdjust="spacingAndGlyphs" stroke-width="0.6">7</text>
<line x1="1072.3" y1="1314.5" x2="1120" y2="1314.5" stroke-width="1.4" stroke-linecap="butt"/>
<line x1="1072.3" y1="1314.8" x2="1037.05" y2="1364.8" stroke-width="1.4" stroke-linecap="butt"/>
<path d="M1050.88 1345.18L1055.33 1336.09L1057.95 1337.93Z" fill="#111" stroke="none"/>
<text x="1087" y="1305.7" font-size="17.6" text-anchor="start" textLength="37.7" lengthAdjust="spacingAndGlyphs" stroke-width="0.6">R4.5</text>
<line x1="1046.3" y1="1400.2" x2="1054.3" y2="1400.2" stroke-width="1.6" stroke-linecap="butt"/>
<line x1="1042.3" y1="1404.7" x2="1058.3" y2="1404.7" stroke-width="1.6" stroke-linecap="butt"/>
<line x1="1038.3" y1="1409.2" x2="1062.3" y2="1409.2" stroke-width="1.6" stroke-linecap="butt"/>
<line x1="1050.3" y1="1409.2" x2="1050.3" y2="1421.2" stroke-width="1.8" stroke-linecap="butt"/>
<text x="943" y="1314" font-size="17.6" text-anchor="start" stroke-width="0.6">A</text>
<path d="M964 1299 L962.3 1302" stroke-width="1.9" fill="none"/>
<path d="M957.6 1315.8 V1302 H971.6 V1314.6 Q971.6 1315.8 969.8 1315.8" stroke-width="1.9" fill="none"/>
<path d="M960.6 1306.8H967.1V1311.5H960.6Z" stroke-width="1.9" fill="none"/>
</svg>
</body></html>
